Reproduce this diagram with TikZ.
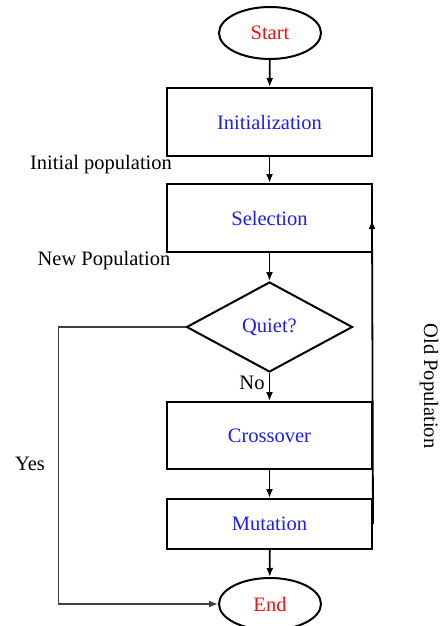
\documentclass[tikz,border=0pt]{standalone}
\usepackage{fontspec}
\setmainfont{Liberation Serif}
\usetikzlibrary{shapes.geometric,arrows.meta}
\definecolor{tblue}{RGB}{30,30,235}
\definecolor{tred}{RGB}{235,20,20}
\begin{document}
\begin{tikzpicture}[x=1pt,y=-1pt,
  font=\fontsize{20.5}{24}\selectfont,
  box/.style={draw,line width=2pt,minimum width=205pt,inner sep=0pt,text=tblue},
  ell/.style={draw,ellipse,line width=2pt,minimum width=102pt,minimum height=52pt,inner sep=0pt,text=tred},
  dia/.style={draw,diamond,line width=2pt,minimum width=166pt,minimum height=90pt,inner sep=0pt,text=tblue},
  arr/.style={line width=1.8pt,-{Latex[length=9pt,width=7pt]}},
  lab/.style={inner sep=0pt,text=black}]
\useasboundingbox (0,0) rectangle (440,626);
\node[ell] (start) at (270,33) {Start};
\node[box,minimum height=68pt] (init) at (269.5,122) {Initialization};
\node[box,minimum height=68pt] (sel) at (269.5,218) {Selection};
\node[dia] (q) at (269.5,327) {Quiet?};
\node[box,minimum height=67pt] (cross) at (269.5,435.5) {Crossover};
\node[box,minimum height=50pt] (mut) at (269.5,524) {Mutation};
\node[ell] (end) at (270,604) {End};
\node[lab] (lip) at (101,165) {Initial population};
\node[lab] (lnp) at (104,261) {New Population};
\node[lab] (lno) at (252,383) {No};
\node[lab] (lyes) at (30,464) {Yes};
\node[lab,rotate=-90] (lold) at (429,386) {Old Population};
\coordinate (fb) at (372,220);
\draw[arr] (start) -- (init);
\draw[arr] (init) -- (sel);
\draw[arr] (sel) -- (q);
\draw[arr] (q) -- (cross);
\draw[arr] (cross) -- (mut);
\draw[arr] (mut) -- (end);
\draw[arr] (mut.east) -- (fb);
\draw[arr,line width=1.3pt,draw=black!75] (q.west) -- ++(-127,0) |- (end.west);
\end{tikzpicture}
\end{document}
